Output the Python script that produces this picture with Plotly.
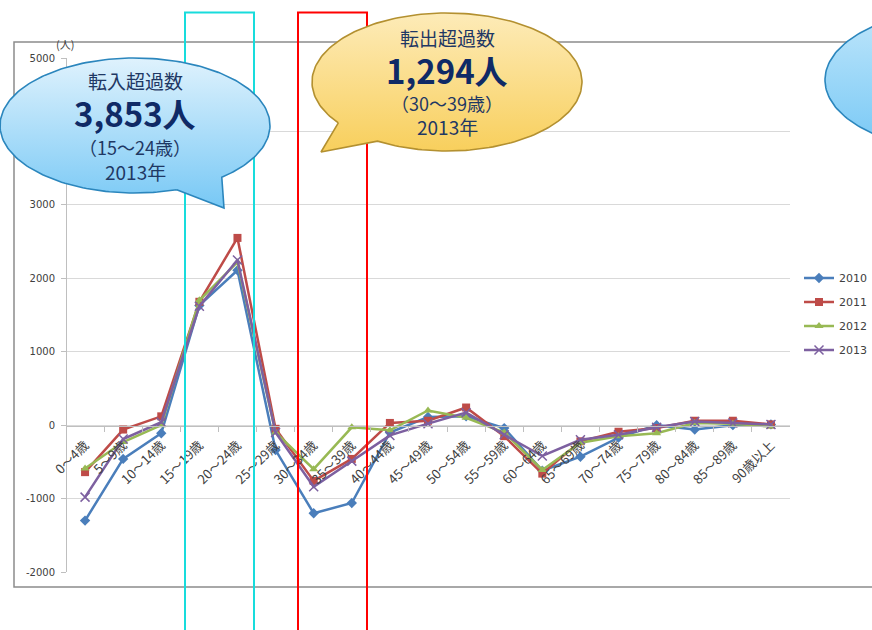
import numpy as np
import plotly.graph_objects as go

# ---------------- data ----------------
age_groups = ["0～4歳", "5～9歳", "10～14歳", "15～19歳", "20～24歳", "25～29歳",
              "30～34歳", "35～39歳", "40～44歳", "45～49歳", "50～54歳", "55～59歳",
              "60～64歳", "65～69歳", "70～74歳", "75～79歳", "80～84歳", "85～89歳",
              "90歳以上"]
years = ["2010", "2011", "2012", "2013"]
v2010 = [-1300, -460, -110, 1630, 2110, -340, -1200, -1060, -100, 110, 120, -40,
         -620, -430, -170, 0, -60, 0, 10]
v2011 = [-640, -60, 120, 1680, 2550, -50, -760, -460, 30, 60, 240, -150,
         -660, -220, -90, -40, 60, 60, 10]
v2012 = [-590, -230, 0, 1700, 2220, -100, -600, -30, -70, 200, 100, -100,
         -610, -240, -150, -110, 30, 20, -20]
v2013 = [-980, -190, 40, 1620, 2250, -100, -840, -490, -140, 20, 170, -130,
         -420, -200, -130, -30, 50, 30, 10]
series = [v2010, v2011, v2012, v2013]

y_ticks = [-2000, -1000, 0, 1000, 2000, 3000, 4000, 5000]
y_ticktext = [str(v) for v in y_ticks]

W, H = 872, 630
colors = ["#4a7ebb", "#be4b48", "#98b954", "#7d60a0"]
symbols = ["diamond", "square", "triangle-up", "x-thin"]

fig = go.Figure()

# main series
for name, vals, c, s in zip(years, series, colors, symbols):
    mk = dict(symbol=s, size=8, color=c)
    if s == "x-thin":
        mk = dict(symbol=s, size=9, color=c, line=dict(color=c, width=1.5))
    fig.add_trace(go.Scatter(
        x=age_groups, y=vals, name=name, mode="lines+markers",
        line=dict(color=c, width=2.5), marker=mk, legendgroup=name,
        xaxis="x", yaxis="y", cliponaxis=False))

# ---------- overlay (pixel coordinates) ----------
def px_trace(xs, ys, **kw):
    return go.Scatter(x=xs, y=ys, xaxis="x2", yaxis="y2", showlegend=False,
                      hoverinfo="skip", **kw)

# highlight rectangles
for (x0, x1, col) in [(185, 254, "#18dcdc"), (298, 367, "#ff0000")]:
    fig.add_trace(px_trace([x0, x0, x1, x1], [645, 12.5, 12.5, 645],
                           mode="lines", line=dict(color=col, width=2)))


def bubble(cx, cy, rx, ry, t0, t1, tip, n=200):
    t = np.radians(np.linspace(t0, t1, n))
    xs = list(cx + rx * np.cos(t)) + [tip[0], cx + rx * np.cos(t[0])]
    ys = list(cy + ry * np.sin(t)) + [tip[1], cy + ry * np.sin(t[0])]
    return xs, ys


# blue bubble (in-migration)
bx, by = bubble(135, 125.5, 135, 67.5, 72, 410, (224, 208))
fig.add_trace(px_trace(bx, by, mode="lines", fill="toself",
                       line=dict(color="#2b86bd", width=1.6),
                       fillgradient=dict(type="vertical", start=58, stop=208,
                                         colorscale=[[0, "#dff2fd"], [1, "#77c8f5"]])))
# gold bubble (out-migration)
gx, gy = bubble(447, 82, 135, 69, 143.6, 481, (321, 152))
fig.add_trace(px_trace(gx, gy, mode="lines", fill="toself",
                       line=dict(color="#b39030", width=1.6),
                       fillgradient=dict(type="vertical", start=13, stop=152,
                                         colorscale=[[0, "#fdebb8"], [1, "#f8cf5c"]])))
# third bubble (mostly off-canvas)
tx, ty = bubble(960, 80, 135, 70, 0, 360, (960 + 135, 80))
fig.add_trace(px_trace(tx, ty, mode="lines", fill="toself",
                       line=dict(color="#2b86bd", width=1.6),
                       fillgradient=dict(type="vertical", start=10, stop=150,
                                         colorscale=[[0, "#bfe6fb"], [1, "#77c8f5"]])))

# ---------- layout ----------
jp = "Noto Sans CJK JP"
fig.update_layout(
    template="none",
    width=W, height=H, autosize=False,
    margin=dict(l=0, r=0, t=0, b=0, pad=0),
    paper_bgcolor="white", plot_bgcolor="rgba(0,0,0,0)",
    showlegend=True,
    legend=dict(x=1, y=(H - 314) / H, xanchor="right", yanchor="middle",
                font=dict(family="DejaVu Sans", size=11, color="#404040"),
                bgcolor="rgba(0,0,0,0)", tracegroupgap=5, itemwidth=30),
    xaxis=dict(domain=[66 / W, 790 / W], anchor="free",
               position=(H - 425.5) / H, type="category", automargin=False,
               range=[-0.5, 18.5], tickangle=-45, showline=True,
               linecolor="#bfbfbf", linewidth=1, ticks="outside",
               tickson="boundaries", ticklen=5, tickcolor="#bfbfbf",
               ticklabelstandoff=6,
               showgrid=False, zeroline=False, fixedrange=True,
               tickfont=dict(family=jp, size=13, color="#404040")),
    yaxis=dict(domain=[(H - 572) / H, (H - 58) / H], anchor="free",
               position=66 / W, range=[-2000, 5000], automargin=False,
               tickvals=y_ticks, ticktext=y_ticktext,
               showgrid=True, gridcolor="#d9d9d9", gridwidth=1,
               showline=True, linecolor="#bfbfbf", linewidth=1,
               ticks="outside", ticklen=5, tickcolor="#bfbfbf",
               ticklabelstandoff=4, zeroline=False, fixedrange=True,
               tickfont=dict(family="DejaVu Sans", size=10, color="#404040")),
    xaxis2=dict(domain=[0, 1], range=[0, W], anchor="y2", visible=False,
                fixedrange=True, automargin=False),
    yaxis2=dict(domain=[0, 1], range=[H, 0], anchor="x2", visible=False,
                fixedrange=True, automargin=False),
)

# outer chart frame
fig.add_shape(type="rect", xref="paper", yref="paper",
              x0=14 / W, x1=1.05, y0=(H - 587) / H, y1=(H - 42) / H,
              line=dict(color="#8c8c8c", width=1.5), layer="below")

# unit label
fig.add_annotation(x=65, y=44, xref="x2", yref="y2", text="(人)", showarrow=False,
                   font=dict(family=jp, size=11, color="#404040"))

navy = "#1f3864"
navy_b = "#0f2a66"
texts = [
    (135, 80, "転入超過数", 19, navy, False),
    (135, 113, "3,853人", 33, navy_b, True),
    (135, 147, "（15～24歳）", 18, navy, False),
    (135, 171, "2013年", 19, navy, False),
    (447, 37, "転出超過数", 19, navy, False),
    (447, 70, "1,294人", 33, navy_b, True),
    (447, 103, "（30～39歳）", 18, navy, False),
    (447, 126, "2013年", 19, navy, False),
]
for x, y, t, s, c, b in texts:
    fig.add_annotation(x=x, y=y, xref="x2", yref="y2",
                       text=f"<b>{t}</b>" if b else t, showarrow=False,
                       font=dict(family=jp, size=s, color=c))

fig.write_html(
    "out.html",
    config={"displayModeBar": False},
    post_script="document.body.style.margin='0';document.body.style.overflow='hidden';",
)
